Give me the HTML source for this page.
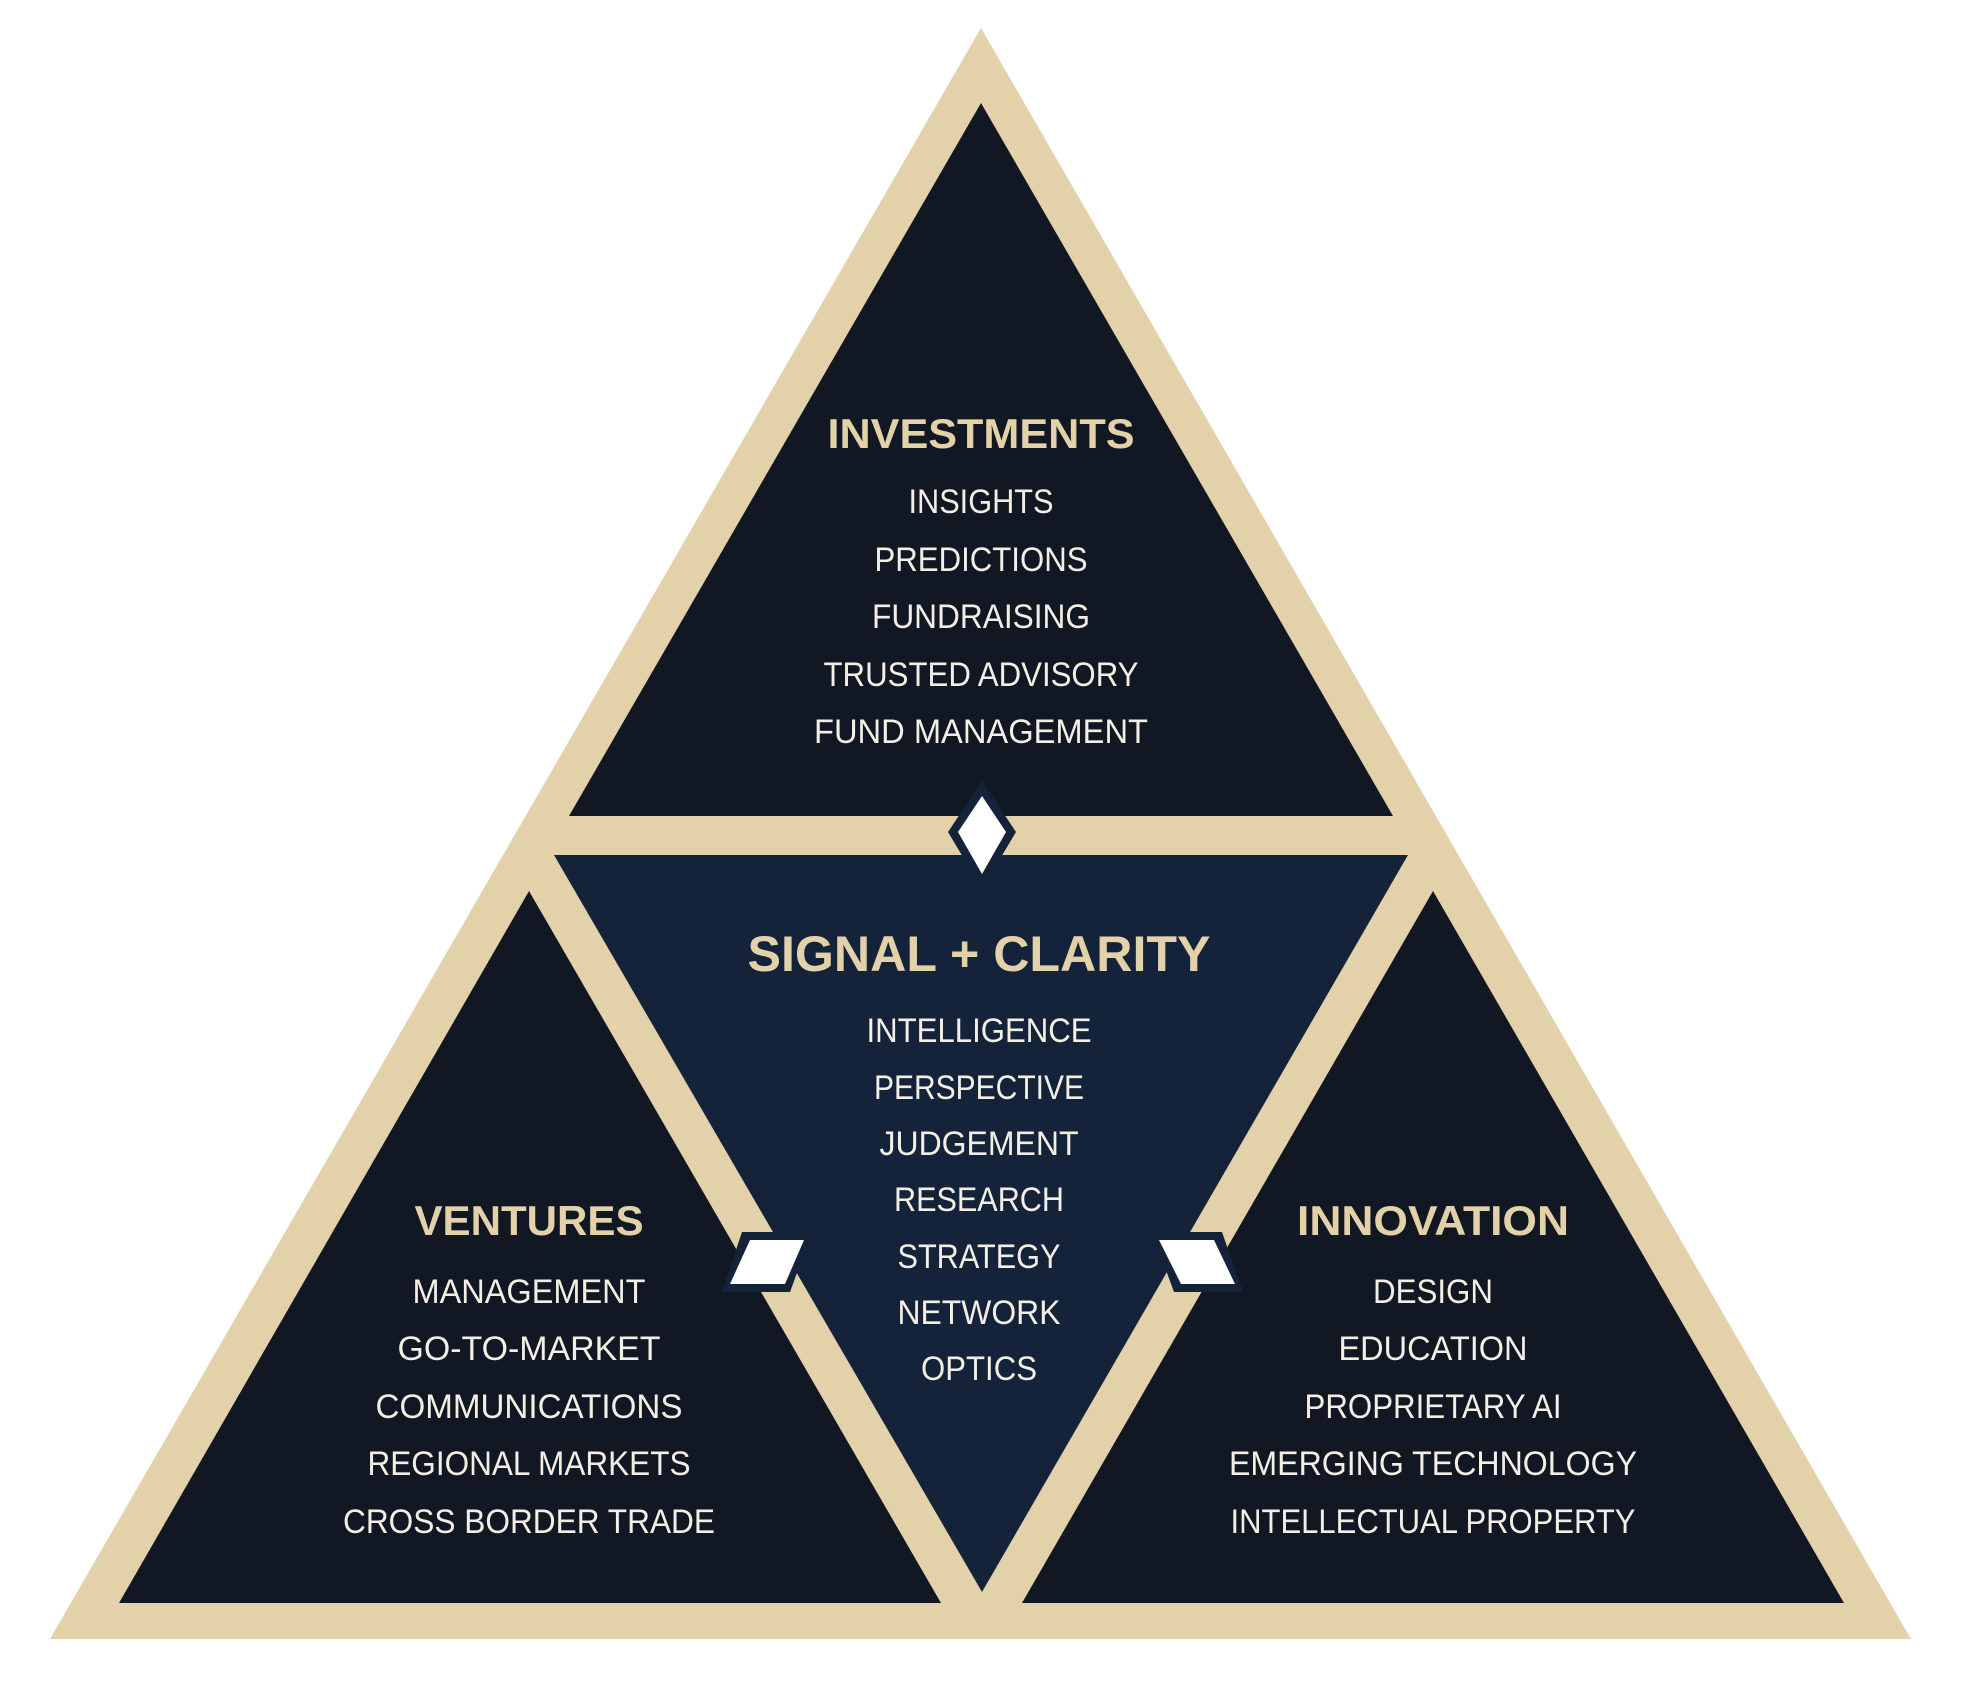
<!DOCTYPE html>
<html><head><meta charset="utf-8"><style>
html,body{margin:0;padding:0;background:#fff;}
svg{display:block;}
.t{font-family:"Liberation Sans",sans-serif;font-weight:bold;font-size:42px;fill:#e3d1aa;}
.i{font-family:"Liberation Sans",sans-serif;font-size:34px;fill:#f4efe4;}
</style></head><body>
<svg width="1962" height="1699" viewBox="0 0 1962 1699" xmlns="http://www.w3.org/2000/svg">
<polygon points="981,28 1911,1639 50,1639" fill="#e3d1aa"/>
<polygon points="981,103 1393,816 569,816" fill="#111823"/>
<polygon points="554,855 1408,855 982,1592" fill="#14233a"/>
<polygon points="529,891 941,1603 119,1603" fill="#111823"/>
<polygon points="1433,891 1844,1603 1022,1603" fill="#111823"/>
<!-- connectors -->
<polygon points="982,781 1016,832 982,889 948,832" fill="#14233a"/>
<polygon points="982,796 1006,832 982,874 958,832" fill="#fff"/>
<polygon points="742,1232 812,1232 790,1292 722,1292" fill="#14233a"/>
<polygon points="750,1240 804,1240 785,1284 730,1284" fill="#fff"/>
<polygon points="1152,1232 1222,1232 1243,1292 1174,1292" fill="#14233a"/>
<polygon points="1159,1240 1214,1240 1235,1284 1181,1284" fill="#fff"/>
<g text-anchor="middle">
<text class="t" x="981" y="448" textLength="307" lengthAdjust="spacingAndGlyphs">INVESTMENTS</text>
<text class="i" x="981" y="513" textLength="145" lengthAdjust="spacingAndGlyphs">INSIGHTS</text>
<text class="i" x="981" y="571" textLength="213" lengthAdjust="spacingAndGlyphs">PREDICTIONS</text>
<text class="i" x="981" y="628" textLength="218" lengthAdjust="spacingAndGlyphs">FUNDRAISING</text>
<text class="i" x="981" y="686" textLength="315" lengthAdjust="spacingAndGlyphs">TRUSTED ADVISORY</text>
<text class="i" x="981" y="743" textLength="334" lengthAdjust="spacingAndGlyphs">FUND MANAGEMENT</text>

<text class="t" x="979" y="971" style="font-size:50px" textLength="463" lengthAdjust="spacingAndGlyphs">SIGNAL + CLARITY</text>
<text class="i" x="979" y="1042" textLength="225" lengthAdjust="spacingAndGlyphs">INTELLIGENCE</text>
<text class="i" x="979" y="1099" textLength="210" lengthAdjust="spacingAndGlyphs">PERSPECTIVE</text>
<text class="i" x="979" y="1155" textLength="199" lengthAdjust="spacingAndGlyphs">JUDGEMENT</text>
<text class="i" x="979" y="1211" textLength="170" lengthAdjust="spacingAndGlyphs">RESEARCH</text>
<text class="i" x="979" y="1268" textLength="163" lengthAdjust="spacingAndGlyphs">STRATEGY</text>
<text class="i" x="979" y="1324" textLength="163" lengthAdjust="spacingAndGlyphs">NETWORK</text>
<text class="i" x="979" y="1380" textLength="116" lengthAdjust="spacingAndGlyphs">OPTICS</text>

<text class="t" x="529" y="1235" textLength="229" lengthAdjust="spacingAndGlyphs">VENTURES</text>
<text class="i" x="529" y="1303" textLength="233" lengthAdjust="spacingAndGlyphs">MANAGEMENT</text>
<text class="i" x="529" y="1360" textLength="263" lengthAdjust="spacingAndGlyphs">GO-TO-MARKET</text>
<text class="i" x="529" y="1418" textLength="307" lengthAdjust="spacingAndGlyphs">COMMUNICATIONS</text>
<text class="i" x="529" y="1475" textLength="323" lengthAdjust="spacingAndGlyphs">REGIONAL MARKETS</text>
<text class="i" x="529" y="1533" textLength="372" lengthAdjust="spacingAndGlyphs">CROSS BORDER TRADE</text>

<text class="t" x="1433" y="1235" textLength="272" lengthAdjust="spacingAndGlyphs">INNOVATION</text>
<text class="i" x="1433" y="1303" textLength="120" lengthAdjust="spacingAndGlyphs">DESIGN</text>
<text class="i" x="1433" y="1360" textLength="189" lengthAdjust="spacingAndGlyphs">EDUCATION</text>
<text class="i" x="1433" y="1418" textLength="257" lengthAdjust="spacingAndGlyphs">PROPRIETARY AI</text>
<text class="i" x="1433" y="1475" textLength="408" lengthAdjust="spacingAndGlyphs">EMERGING TECHNOLOGY</text>
<text class="i" x="1433" y="1533" textLength="405" lengthAdjust="spacingAndGlyphs">INTELLECTUAL PROPERTY</text>
</g>
</svg>
</body></html>
